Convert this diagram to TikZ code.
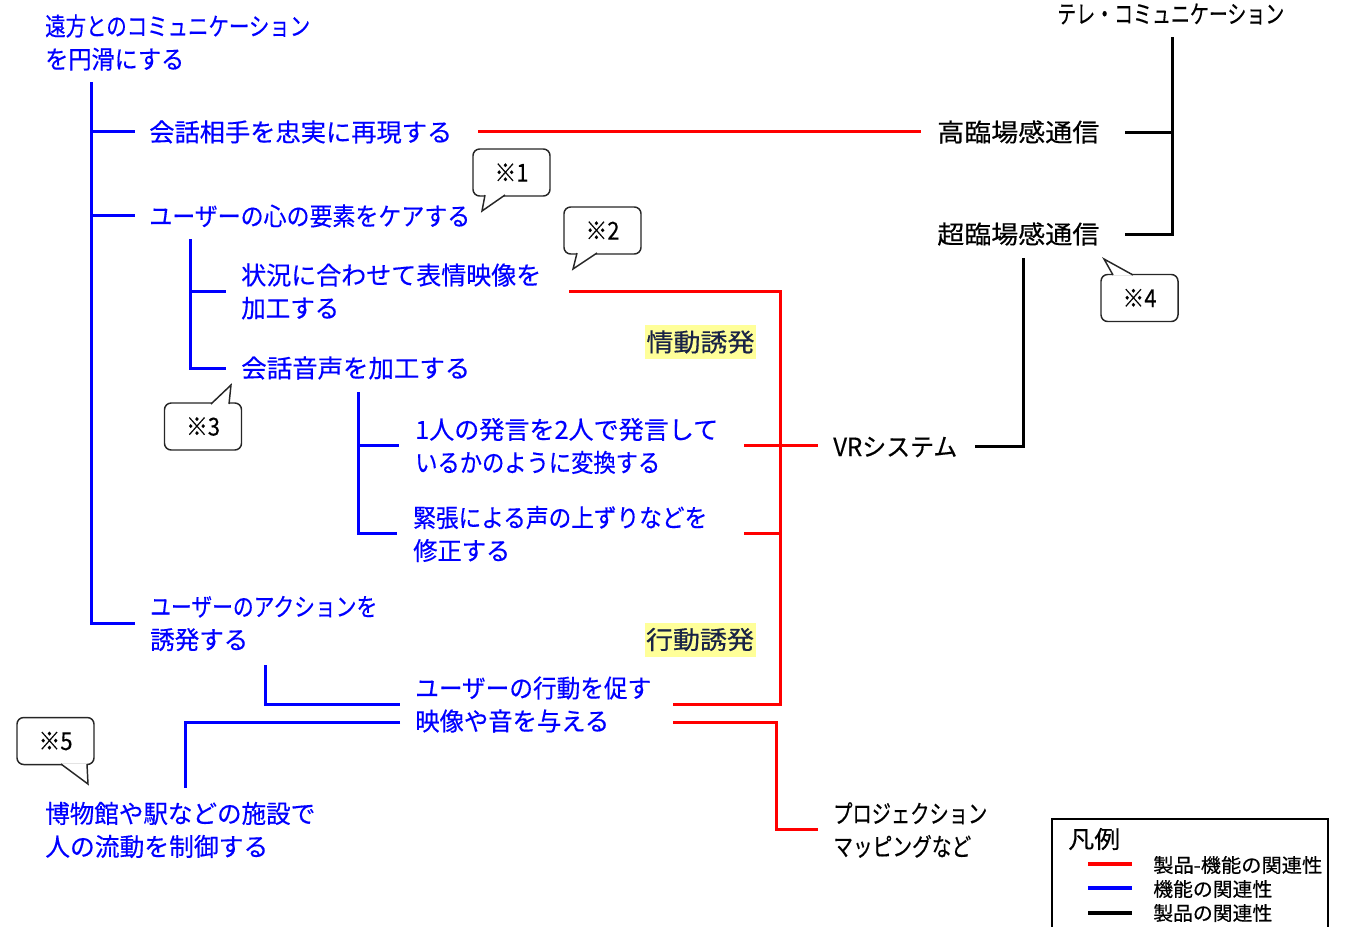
\documentclass[tikz,border=0pt]{standalone}
\usepackage{fontspec}
\setmainfont{Noto Sans CJK JP}[FakeBold=0.4]
\usepackage{graphicx}
\newdimen\pxu \pxu=0.75pt
\newcommand\fw[2]{\resizebox{#1\pxu}{\height}{#2}}
\definecolor{myblue}{RGB}{0,0,255}
\definecolor{myred}{RGB}{255,0,0}
\definecolor{hlyellow}{RGB}{255,255,153}
\definecolor{hltext}{RGB}{25,35,70}
\tikzset{
  lbl/.style={anchor=west, inner sep=0pt, align=left, font=\fontsize{18.75pt}{24.75pt}\selectfont},
  bl/.style={lbl, text=myblue},
  bk/.style={lbl, text=black},
  bline/.style={draw=myblue, line width=2.25pt},
  rline/.style={draw=myred, line width=2.25pt},
  kline/.style={draw=black, line width=2.25pt},
  hl/.style={fill=hlyellow, inner sep=0pt, minimum width=83.25pt, minimum height=25.5pt, text=hltext, font=\fontsize{18.75pt}{24.75pt}\selectfont},
  bubble/.style={draw=black!85, line width=1.1pt, fill=white, rounded corners=5pt, inner sep=0pt, minimum width=57.75pt, minimum height=35.25pt, font=\fontsize{18.5pt}{22pt}\selectfont},
  tail/.style={draw=black!85, line width=1.1pt, fill=white, line join=miter},
  legline/.style={line width=3pt},
  legtext/.style={anchor=west, inner sep=0pt, font=\fontsize{14.6pt}{17pt}\selectfont},
}
\begin{document}
\begin{tikzpicture}[x=0.75pt,y=-0.75pt]
\useasboundingbox (0,0) rectangle (1352,926);

% ---- blue function texts ----
\node[bl] (t1) at (45,42.5) {\fw{265}{遠方とのコミュニケーション}\\\fw{139}{を円滑にする}};
\node[bl] (t2) at (149,132) {\fw{303}{会話相手を忠実に再現する}};
\node[bl] (t3) at (149,216) {\fw{321}{ユーザーの心の要素をケアする}};
\node[bl] (t4) at (241,291.5) {\fw{300}{状況に合わせて表情映像を}\\\fw{98}{加工する}};
\node[bl] (t5) at (241,368) {\fw{229}{会話音声を加工する}};
\node[bl] (t6) at (415,446) {\fw{303}{1人の発言を2人で発言して}\\\fw{245}{いるかのように変換する}};
\node[bl] (t7) at (413,534) {\fw{294}{緊張による声の上ずりなどを}\\\fw{97}{修正する}};
\node[bl] (t8) at (150,623.5) {\fw{227}{ユーザーのアクションを}\\\fw{98}{誘発する}};
\node[bl] (t9) at (415,704.5) {\fw{236}{ユーザーの行動を促す}\\\fw{194}{映像や音を与える}};
\node[bl] (t10) at (45,830) {\fw{270}{博物館や駅などの施設で}\\\fw{223}{人の流動を制御する}};

% ---- black product texts ----
\node[bk] (k1) at (1057,14) {\fw{227}{テレ・コミュニケーション}};
\node[bk] (k2) at (937,132) {\fw{162}{高臨場感通信}};
\node[bk] (k3) at (937,234) {\fw{162}{超臨場感通信}};
\node[bk] (k4) at (833,447) {\fw{124}{VRシステム}};
\node[bk] (k5) at (833,830) {\fw{154}{プロジェクション}\\\fw{138}{マッピングなど}};

% ---- highlights ----
\node[hl] (h1) at (700.5,342) {\fw{108}{情動誘発}};
\node[hl] (h2) at (700,639.5) {\fw{108}{行動誘発}};

% ---- junction coordinates ----
\coordinate (a0) at (91,82);   \coordinate (a1) at (91,131);  \coordinate (a1e) at (135,131);
\coordinate (a2) at (91,215);  \coordinate (a2e) at (135,215);
\coordinate (a3) at (91,623);  \coordinate (a3e) at (135,623);
\coordinate (b0) at (190,239); \coordinate (b1) at (190,291); \coordinate (b1e) at (226,291);
\coordinate (b2) at (190,368); \coordinate (b2e) at (226,368);
\coordinate (c0) at (358,392); \coordinate (c1) at (358,445); \coordinate (c1e) at (399,445);
\coordinate (c2) at (358,533); \coordinate (c2e) at (397,533);
\coordinate (d0) at (265,665); \coordinate (d1) at (265,704); \coordinate (d1e) at (400,704);
\coordinate (e0) at (400,722); \coordinate (e1) at (185,722); \coordinate (e2) at (185,788);
\coordinate (r0) at (478,131); \coordinate (r0e) at (921,131);
\coordinate (r1) at (569,291); \coordinate (r1c) at (780,291); \coordinate (r1d) at (780,704); \coordinate (r1e) at (673,704);
\coordinate (r2) at (744,445); \coordinate (r2e) at (818,445);
\coordinate (r3) at (744,533); \coordinate (r3e) at (780,533);
\coordinate (r4) at (673,722); \coordinate (r4c) at (776,722); \coordinate (r4d) at (776,829); \coordinate (r4e) at (818,829);
\coordinate (k0) at (1172,37); \coordinate (kA) at (1172,132); \coordinate (kAe) at (1125,132);
\coordinate (kB) at (1172,234); \coordinate (kBe) at (1125,234);
\coordinate (v0) at (1023,258); \coordinate (v1) at (1023,446); \coordinate (v1e) at (975,446);

% ---- blue connectors ----
\draw[bline] (a0) -- (a3) -- (a3e);
\draw[bline] (a1) -- (a1e);
\draw[bline] (a2) -- (a2e);
\draw[bline] (b0) -- (b2) -- (b2e);
\draw[bline] (b1) -- (b1e);
\draw[bline] (c0) -- (c2) -- (c2e);
\draw[bline] (c1) -- (c1e);
\draw[bline] (d0) -- (d1) -- (d1e);
\draw[bline] (e0) -- (e1) -- (e2);

% ---- red connectors ----
\draw[rline] (r0) -- (r0e);
\draw[rline] (r1) -- (r1c) -- (r1d) -- (r1e);
\draw[rline] (r2) -- (r2e);
\draw[rline] (r3) -- (r3e);
\draw[rline] (r4) -- (r4c) -- (r4d) -- (r4e);

% ---- black connectors ----
\draw[kline] (k0) -- (kB) -- (kBe);
\draw[kline] (kA) -- (kAe);
\draw[kline] (v0) -- (v1) -- (v1e);

% ---- callouts ----
\node[bubble] (n1) at (511.5,172.5) {\fw{34}{※1}};
\draw[tail] (485,195) -- (482,211) -- (505,195);
\node[bubble] (n2) at (602.5,230.5) {\fw{34}{※2}};
\draw[tail] (577,253) -- (573,269) -- (597,253);
\node[bubble] (n3) at (203,426.5) {\fw{34}{※3}};
\draw[tail] (211,404) -- (231,385) -- (229,404);
\node[bubble] (n4) at (1139.5,298) {\fw{34}{※4}};
\draw[tail] (1113,275) -- (1104,259) -- (1133,275);
\node[bubble] (n5) at (55.5,741) {\fw{34}{※5}};
\draw[tail] (61,764) -- (88,784) -- (87,764);

% ---- legend ----
\coordinate (L0) at (1052,935); \coordinate (L1) at (1052,819);
\coordinate (L2) at (1328,819); \coordinate (L3) at (1328,935);
\draw[line width=1.5pt] (L0) -- (L1) -- (L2) -- (L3);
\node[legtext, font=\fontsize{18pt}{20pt}\selectfont] (lt) at (1068,839) {\fw{52}{凡例}};
\coordinate (lr0) at (1088,864); \coordinate (lr1) at (1132,864);
\coordinate (lb0) at (1088,888); \coordinate (lb1) at (1132,888);
\coordinate (lk0) at (1088,913); \coordinate (lk1) at (1132,913);
\draw[legline, myred] (lr0) -- (lr1);
\draw[legline, myblue] (lb0) -- (lb1);
\draw[legline, black] (lk0) -- (lk1);
\node[legtext] (l1) at (1153,865) {\fw{169}{製品-機能の関連性}};
\node[legtext] (l2) at (1153,889) {\fw{119}{機能の関連性}};
\node[legtext] (l3) at (1153,913) {\fw{119}{製品の関連性}};
\end{tikzpicture}
\end{document}
